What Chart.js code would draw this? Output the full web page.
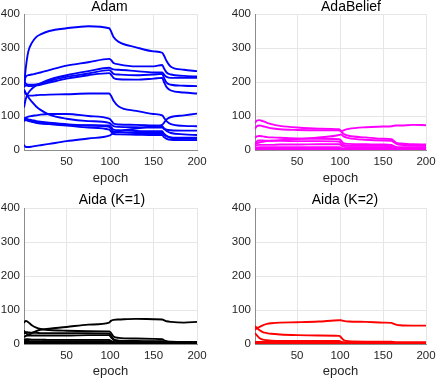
<!DOCTYPE html>
<html>
<head>
<meta charset="utf-8">
<script src="https://cdn.jsdelivr.net/npm/chart.js@4/dist/chart.umd.min.js"></script>
<style>
  html, body { margin: 0; padding: 0; background: #fff; }
  #wrap { position: relative; width: 436px; height: 379px; overflow: hidden; background: #fff; }
  canvas { position: absolute; }
</style>
</head>
<body>
<div id="wrap">
  <canvas id="c0" width="218" height="190" style="left:0;top:0"></canvas>
  <canvas id="c1" width="218" height="190" style="left:218px;top:0"></canvas>
  <canvas id="c2" width="218" height="189" style="left:0;top:190px"></canvas>
  <canvas id="c3" width="218" height="189" style="left:218px;top:190px"></canvas>
</div>
<script>
// ---------------- data ----------------
const epochs = [1,3,6,10,15,20,30,50,75,99,101,104,110,130,150,160,162,165,170,185,200];
const xTicks = [50,100,150,200];
const yTicks = [0,100,200,300,400];
const panelTitles = ['Adam','AdaBelief','Aida (K=1)','Aida (K=2)'];
const xLabel = 'epoch';

// Adam
const adam1  = [185,240,290,315,332,340,350,358,364,358,350,332,318,302,290,286,278,262,245,236,232];
const adam2  = [195,215,220,222,225,228,235,248,258,268,265,256,252,246,246,250,240,228,222,218,216];
const adam3  = [125,150,168,180,190,196,207,220,232,242,240,237,236,232,228,228,222,215,212,212,212];
const adam4  = [205,195,192,192,193,195,203,215,225,235,232,224,222,220,222,224,212,198,192,189,188];
const adam5  = [185,190,188,188,190,192,198,210,220,226,222,212,208,207,210,212,200,185,175,169,166];
const adam6  = [175,165,160,160,161,162,163,164,166,166,160,145,128,115,106,102,95,85,76,71,70];
const adam7  = [178,168,155,142,128,118,104,92,85,80,76,70,68,67,66,66,62,56,50,46,44];
const adam8  = [88,95,98,100,102,104,106,106,100,92,88,78,75,74,72,70,64,60,58,57,57];
const adam9  = [85,88,86,83,80,78,76,74,73,72,68,60,58,56,55,55,48,42,36,33,33];
const adam10 = [95,92,90,88,85,83,80,76,72,68,62,54,52,50,50,50,45,40,37,36,36];
const adam11 = [92,90,87,84,81,79,76,72,66,60,55,47,46,45,44,44,38,33,30,29,29];
const adam12 = [15,9,9,10,12,14,18,26,34,42,45,50,55,63,70,74,80,90,97,102,107];

// AdaBelief
const ab1 = [80,86,88,85,80,76,71,66,63,61,56,48,42,37,33,32,28,22,19,17,16];
const ab2 = [62,70,72,70,67,64,61,59,58,58,55,58,62,67,69,70,71,72,72,74,73];
const ab3 = [22,20,22,24,26,27,29,32,37,44,46,40,35,30,28,27,24,19,15,13,12];
const ab4 = [35,40,41,40,38,37,36,34,33,32,28,20,18,17,16,15,12,9,8,8,8];
const ab5 = [15,25,28,28,27,27,27,26,26,25,20,15,13,12,12,11,9,7,6,6,6];
const ab6 = [10,14,15,15,15,15,16,16,17,17,14,10,8,8,8,7,5,4,4,4,4];
const ab7 = [5,7,8,8,8,8,8,8,8,8,6,4,4,4,4,4,3,2,2,2,2];
const ab8 = [2,3,3,3,3,3,3,3,3,3,2,2,2,2,2,2,1,1,1,1,1];

// Aida (K=1)
const k1a = [62,68,64,55,48,44,41,39,38,37,33,22,18,16,15,14,11,8,7,6,6];
const k1b = [40,32,28,32,38,42,45,50,57,63,68,71,72,74,73,72,70,67,65,63,65];
const k1c = [30,35,34,33,33,32,32,32,32,31,24,14,10,9,8,8,6,4,4,3,3];
const k1d = [20,24,25,25,25,25,25,25,26,26,20,12,8,7,7,7,5,3,3,3,3];
const k1e = [12,14,14,13,13,13,12,12,12,12,9,6,5,5,5,5,3,2,2,2,2];
const k1f = [8,9,9,8,8,8,8,8,8,8,6,4,3,3,3,3,2,1,1,1,1];
const k1g = [5,5,5,5,5,5,5,5,5,5,3,2,2,2,2,2,1,1,1,1,1];
const k1h = [2,2,2,2,2,2,2,2,2,2,1,1,1,1,1,1,0.5,0.5,0.5,0.5,0.5];

// Aida (K=2)
const k2a = [42,46,50,55,59,61,63,64,66,70,70,68,66,65,63,62,60,57,55,54,54];
const k2b = [52,48,41,35,32,30,28,26,25,24,20,12,8,7,7,7,6,5,5,5,5];
const k2c = [32,26,18,13,11,10,9,9,9,9,7,5,4,4,4,4,3,3,3,3,3];
const k2d = [6,6,6,6,6,6,6,6,6,6,5,3,3,3,3,3,2,2,2,2,2];
const k2e = [3,3,3,3,3,3,3,3,3,3,2,2,2,2,2,2,1,1,1,1,1];
const k2f = [1,1,1,1,1,1,1,1,1,1,1,1,1,1,1,1,0.5,0.5,0.5,0.5,0.5];

const panelSeries = [
  [adam1,adam2,adam3,adam4,adam5,adam6,adam7,adam8,adam9,adam10,adam11,adam12],
  [ab1,ab2,ab3,ab4,ab5,ab6,ab7,ab8],
  [k1a,k1b,k1c,k1d,k1e,k1f,k1g,k1h],
  [k2a,k2b,k2c,k2d,k2e,k2f]
];
const panelColors = ['#0000ff','#ff00ff','#000000','#ff0000'];

// ---------------- layout per panel ----------------
const FONT = '"Liberation Sans", Arial, Helvetica, sans-serif';
const layouts = [
  {yW:24, xH:40, pad:{top:14,right:21,left:0,bottom:0}, titleX:109.5, titleY:11, labelPad:4},
  {yW:37, xH:40, pad:{top:14,right:10,left:0,bottom:0}, titleX:133, titleY:11, labelPad:4},
  {yW:24, xH:35, pad:{top:18,right:21,left:0,bottom:0}, titleX:112, titleY:14, labelPad:0},
  {yW:37, xH:35, pad:{top:18,right:10,left:0,bottom:0}, titleX:127, titleY:14, labelPad:0}
];

const titlePlugin = {
  id: 'panelTitle',
  afterDraw(chart, args, opts) {
    const ctx = chart.ctx;
    ctx.save();
    ctx.font = '14px ' + FONT;
    ctx.fillStyle = '#000';
    ctx.textAlign = 'center';
    ctx.textBaseline = 'alphabetic';
    ctx.fillText(opts.text, opts.x, opts.y);
    ctx.restore();
  }
};

panelSeries.forEach((series, p) => {
  const L = layouts[p];
  const datasets = series.map(vals => ({
    data: epochs.map((e, i) => ({x: e, y: vals[i]})),
    borderColor: panelColors[p],
    backgroundColor: panelColors[p],
    borderWidth: 1.9,
    pointRadius: 0,
    fill: false,
    cubicInterpolationMode: 'monotone',
    tension: 0.4
  }));
  new Chart(document.getElementById('c' + p), {
    type: 'line',
    data: { datasets },
    plugins: [titlePlugin],
    options: {
      responsive: false,
      animation: false,
      devicePixelRatio: 1,
      layout: { padding: L.pad },
      plugins: {
        legend: { display: false },
        tooltip: { enabled: false },
        panelTitle: { text: panelTitles[p], x: L.titleX, y: L.titleY }
      },
      scales: {
        x: {
          type: 'linear',
          min: 1, max: 200,
          afterBuildTicks: s => { s.ticks = xTicks.map(v => ({value: v})); },
          afterFit: s => { s.height = L.xH; s.paddingLeft = 0; s.paddingRight = 0; },
          grid: { color: '#e6e6e6', lineWidth: 1, drawTicks: false },
          border: { display: true, color: '#8c8c8c', width: 1 },
          ticks: { padding: 5, color: '#262626', font: { family: FONT, size: 11.5 }, maxRotation: 0, autoSkip: false },
          title: { display: true, text: xLabel, color: '#262626', font: { family: FONT, size: 13 }, padding: { top: 0, bottom: L.labelPad } }
        },
        y: {
          type: 'linear',
          min: 0, max: 400,
          afterBuildTicks: s => { s.ticks = yTicks.map(v => ({value: v})); },
          afterFit: s => { s.width = L.yW; s.paddingTop = 0; s.paddingBottom = 0; },
          grid: { color: '#e6e6e6', lineWidth: 1, drawTicks: false },
          border: { display: true, color: '#8c8c8c', width: 1 },
          ticks: { padding: 4, color: '#262626', font: { family: FONT, size: 11.5 }, autoSkip: false }
        }
      }
    }
  });
});
</script>
</body>
</html>
